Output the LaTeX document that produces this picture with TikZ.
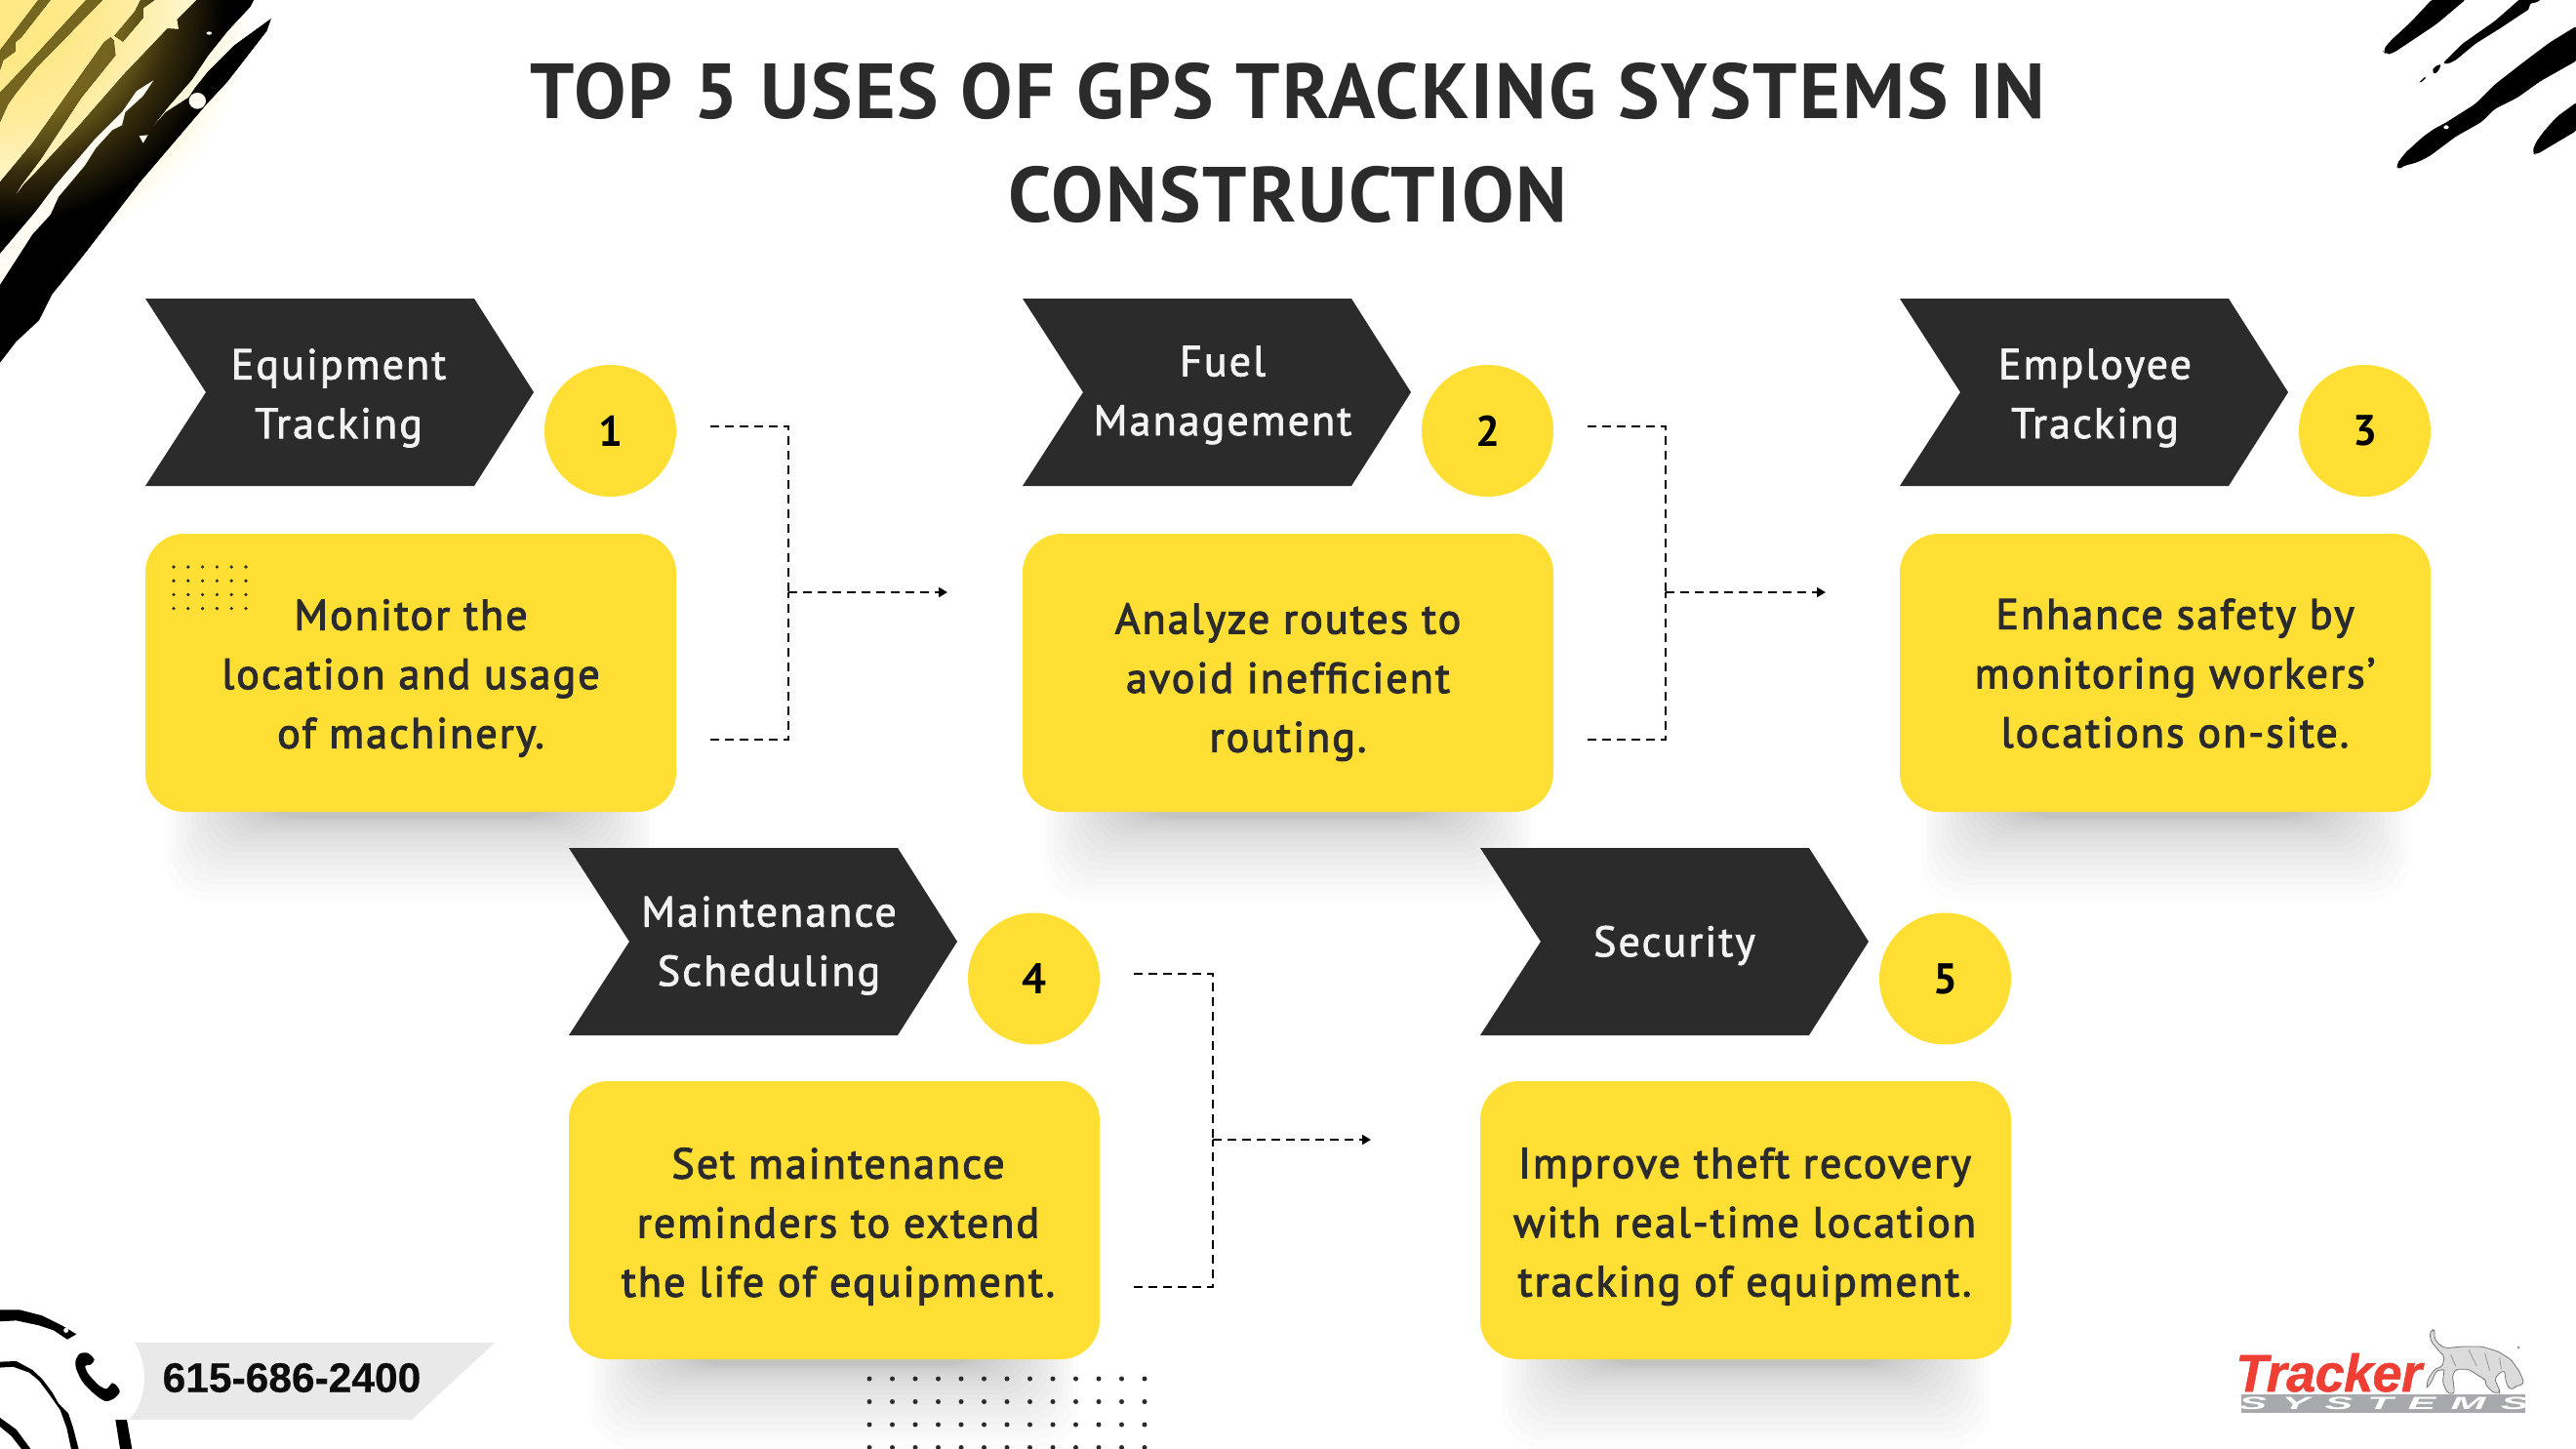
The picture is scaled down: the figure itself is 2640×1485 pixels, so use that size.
\documentclass[tikz,border=0pt]{standalone}
\usepackage{fontspec}
\usetikzlibrary{arrows.meta,calc}
\setmainfont{PT Sans}
\newfontfamily\titlefont{PT Sans}[LetterSpace=2.6]
\newfontfamily\bodyfont{PT Sans}[LetterSpace=4.8,FakeBold=2.6]
\newfontfamily\numfont{PT Sans}[LetterSpace=4]
\newfontfamily\labelfont{PT Sans}[LetterSpace=4.8,FakeBold=1.8]
\newfontfamily\liberfont{Liberation Sans}
\newfontfamily\phonefont{Liberation Sans}[FakeBold=0.5]
\newfontfamily\brandfont{Liberation Sans}[FakeBold=1,LetterSpace=-1]
\definecolor{ink}{HTML}{2B2B2B}
\definecolor{cardy}{HTML}{FFDF33}
\definecolor{barg}{HTML}{E9E9E9}
\definecolor{logor}{HTML}{EF3E33}
\definecolor{logog}{HTML}{A8A9AC}
\definecolor{sliver}{HTML}{FFFDF3}
\pgfdeclareradialshading{cornerglow}{\pgfpointorigin}{rgb(0bp)=(1,.91,.52);rgb(5bp)=(1,.91,.52);rgb(10bp)=(1,.92,.60);rgb(14.6bp)=(1,.953,.75);rgb(21.7bp)=(1,1,1);rgb(25bp)=(1,1,1);rgb(50bp)=(1,1,1)}
\pgfdeclareradialshading{cornerdark}{\pgfpointorigin}{rgb(0bp)=(.47,.41,.13);rgb(10.4bp)=(.45,.39,.12);rgb(12.7bp)=(.35,.30,.085);rgb(14.6bp)=(.22,.18,.05);rgb(19.2bp)=(0,0,0);rgb(25bp)=(0,0,0);rgb(50bp)=(0,0,0)}
\tikzset{
  cardbox/.style={fill=cardy,rounded corners=40pt,minimum width=544pt,minimum height=285pt,inner sep=0pt},
  cardtext/.style={inner sep=0pt,text=ink,align=center,font=\bodyfont\fontsize{44}{60.6}\selectfont},
  chevtext/.style={text=white!95!black,align=center,inner sep=0pt,font=\labelfont\fontsize{44}{60.6}\selectfont},
  numdisc/.style={circle,fill=cardy,minimum size=135pt,inner sep=0pt,text=black,font=\numfont\bfseries\fontsize{44}{50}\selectfont},
  flow/.style={draw=black,line width=2pt,dash pattern=on 9pt off 6pt},
  flowhead/.style={flow,-{Triangle[length=9pt,width=10pt,fill=black]}},
  titletext/.style={text=ink,inner sep=0pt,font=\titlefont\bfseries\fontsize{80}{106}\selectfont,align=center}
}
\newcommand{\chevshape}[2]{\fill[ink] (#1,#2)--++(337,0)--++(61,96)--++(-61,96)--++(-337,0)--++(62,-96)--cycle;}
\newcommand{\softshadow}[2]{\foreach \i in {0,...,19}{\fill[black,opacity=.012,rounded corners=40pt] ({#1+22+\i*5},{#2-120}) rectangle ({#1+522-\i*5},{#2+6+85*(1-\i/20)*(1-\i/20)});}}
\begin{document}
\begin{tikzpicture}[x=1pt,y=-1pt]
\useasboundingbox (0,0) rectangle (2640,1485);
\fill[white] (0,0) rectangle (2640,1485);
% soft shadows
\softshadow{149}{832}\softshadow{1048}{832}\softshadow{1947}{832}\softshadow{583}{1393}\softshadow{1517}{1393}
% corner brush, top left
\shade[shading=cornerglow] (0,0) circle (300pt);
\begin{scope}
\begin{scope}[x=0.33333pt,y=-0.33333pt]
\clip (605,0)--(545,60)--(550,90)--(515,88)--(380,230)--(240,390)--(110,530)--(75,565)--(40,612)--(65,570)--(125,490)--(250,300)--(355,170)--(350,125)--(340,115)--(320,130)--(100,440)--(0,560)--(0,1115)--(50,1050)--(120,985)--(160,905)--(260,780)--(430,560)--(635,320)--(700,250)--(820,95)--(833,58)--(720,140)--(640,220)--(600,270)--(580,300)--(510,345)--(456,405)--(520,325)--(590,245)--(640,170)--(700,95)--(770,20)--(780,0)--cycle
 (118,0)--(155,0)--(65,115)--(47,130)--(47,158)--(10,185)--(0,215)--(0,155)--cycle
 (265,0)--(315,0)--(110,210)--(50,285)--(25,320)--(0,375)--(0,285)--(100,180)--cycle
 (432,0)--(475,0)--(440,25)--(440,55)--(378,128)--(352,110)--(415,35)--cycle;
\fill[black] (0,0) rectangle (900,1200);
\shade[shading=cornerdark] (0,0) circle (300pt);
\end{scope}
\end{scope}
\begin{scope}[x=0.33333pt,y=-0.33333pt]
\fill[sliver] (472,247)--(420,280)--(375,345)--(290,430)--(170,570)--(110,650)--(0,780)--(0,875)--(100,720)--(155,660)--(180,605)--(260,510)--(295,455)--(345,400)--(375,385)--(385,345)--(440,295)--cycle;
\fill[sliver] (607,310) ellipse (26 and 25);
\fill[sliver] (643,102) ellipse (8 and 5);
\fill[sliver] (428,418)--(455,415)--(440,440)--cycle;
\end{scope}
% corner brush, top right
\begin{scope}[shift={(2380,0)},x=0.33333pt,y=-0.33333pt]
\fill[black,rounded corners=5pt] (185,155)--(210,125)--(270,70)--(340,-5)--(445,-5)--(350,75)--(260,135)--(215,165)--(195,167)--cycle;
\fill[black,rounded corners=3pt] (370,195)--(385,197)--(410,185)--(470,135)--(550,85)--(625,35)--(637,28)--(637,10)--(660,8)--(675,-5)--(610,-5)--(530,65)--(430,135)--cycle;
\fill[black,rounded corners=2pt] (337,218)--(345,205)--(365,197)--(358,218)--(345,228)--cycle;
\fill[black] (298,253)--(315,237)--(318,240)--(305,252)--cycle;
\fill[black,rounded corners=4pt] (785,78)--(700,130)--(620,190)--(530,260)--(470,320)--(375,380)--(345,395)--(310,420)--(255,470)--(228,505)--(232,523)--(250,510)--(290,500)--(330,480)--(410,420)--(490,375)--(530,335)--(600,300)--(670,250)--(785,185)--cycle;
\fill[white] (381,391) ellipse (8 and 6);
\fill[black,rounded corners=4pt] (785,312)--(720,360)--(680,405)--(655,440)--(645,470)--(657,476)--(785,400)--cycle;
\end{scope}
% phone strip
\fill[barg] (100,1376)--(507,1376)--(422,1455)--(100,1455)--cycle;
\fill[white] (80,1412) circle (68pt);
\begin{scope}[shift={(0,1330)},x=0.33333pt,y=-0.33333pt]
\fill[black] (-5,37)--(60,37)--(130,55)--(190,85)--(235,112)--(207,128)--(165,100)--(120,85)--(50,70)--(-5,73)--cycle;
\fill[white] (203,100) circle (2.5pt);
\fill[black] (-5,197)--(50,195)--(100,222)--(130,250)--(160,290)--(180,325)--(210,355)--(225,400)--(243,470)--(220,470)--(205,400)--(185,345)--(150,295)--(120,255)--(90,230)--(40,212)--(-5,215)--cycle;
\fill[black] (-5,365)--(50,405)--(98,470)--(70,470)--(35,425)--(-5,392)--cycle;
\fill[black] (355,375)--(390,375)--(407,470)--(370,470)--cycle;
\fill[black] plot[smooth cycle,tension=0.45] coordinates {(232,195) (245,172) (270,170) (290,190) (280,205) (262,210) (272,235) (305,270) (328,280) (345,262) (360,272) (368,290) (350,310) (325,318) (295,300) (255,260) (235,220)};
\end{scope}
\node[inner sep=0pt,text=black!95,font=\phonefont\bfseries\fontsize{42.5}{50}\selectfont] (phone) at (299,1412) {615-686-2400};
% title
\node[titletext] (title) at (1320,146) {TOP 5 USES OF GPS TRACKING SYSTEMS IN\\CONSTRUCTION};
% chevrons
\chevshape{149}{306}\chevshape{1048}{306}\chevshape{1947}{306}\chevshape{583}{869}\chevshape{1517}{869}
\node[chevtext] (lab1) at (347,408) {Equipment\\Tracking};
\node[chevtext] (lab2) at (1253,405) {Fuel\\Management};
\node[chevtext] (lab3) at (2147,408) {Employee\\Tracking};
\node[chevtext] (lab4) at (788,969) {Maintenance\\Scheduling};
\node[chevtext] (lab5) at (1716,969) {Security};
% numbers
\node[numdisc] (num1) at (625.5,441.5) {\raisebox{-1pt}{1}};
\node[numdisc] (num2) at (1524.5,441.5) {\raisebox{-1pt}{2}};
\node[numdisc] (num3) at (2423.5,441.5) {\raisebox{-1pt}{3}};
\node[numdisc] (num4) at (1059.5,1003) {\raisebox{-1pt}{4}};
\node[numdisc] (num5) at (1993.5,1003) {\raisebox{-1pt}{5}};
% cards
\node[cardbox] (card1) at (421,689.5) {};
\node[cardbox] (card2) at (1320,689.5) {};
\node[cardbox] (card3) at (2219,689.5) {};
\node[cardbox] (card4) at (855,1250.5) {};
\node[cardbox] (card5) at (1789,1250.5) {};
\node[cardtext] (text1) at (421,695) {Monitor the\\location and usage\\of machinery.};
\node[cardtext] (text2) at (1320,699) {Analyze routes to\\avoid inefficient\\routing.};
\node[cardtext] (text3) at (2229,690) {Enhance safety by\\monitoring workers’\\locations on-site.};
\node[cardtext] (text4) at (859,1257) {Set maintenance\\reminders to extend\\the life of equipment.};
\node[cardtext] (text5) at (1788,1257) {Improve theft recovery\\with real-time location\\tracking of equipment.};
% dot grids
\foreach \cx in {0,...,5}\foreach \cy in {0,...,3}{\fill[ink] ({178+\cx*14.8},{581+\cy*14.2}) circle (1.8pt);}
\foreach \cx in {0,...,12}\foreach \cy in {0,...,3}{\fill[ink] ({891+\cx*23.5},{1413+\cy*23.5}) circle (2.5pt);}
% connectors
\coordinate (a1) at (728,437);\coordinate (b1) at (728,758);\coordinate (j1) at (808,607);\coordinate (e1) at (971,607);
\coordinate (a2) at (1627,437);\coordinate (b2) at (1627,758);\coordinate (j2) at (1707,607);\coordinate (e2) at (1871,607);
\coordinate (a4) at (1162,998);\coordinate (b4) at (1162,1319);\coordinate (j4) at (1243,1168);\coordinate (e4) at (1405,1168);
\draw[flow] (a1)-|(j1);\draw[flow] (b1)-|(j1);
\draw[flowhead] (j1)--(e1);
\draw[flow] (a2)-|(j2);\draw[flow] (b2)-|(j2);
\draw[flowhead] (j2)--(e2);
\draw[flow] (a4)-|(j4);\draw[flow] (b4)-|(j4);
\draw[flowhead] (j4)--(e4);
% logo
\fill[logog] (2297,1429) rectangle (2588,1448);
\node[anchor=base west,inner sep=0pt,text=logor,font=\brandfont\bfseries\itshape\fontsize{54}{60}\selectfont] (trk) at (2291,1426) {Tracker};
\node[inner sep=0pt,text=white,xscale=2.4,font=\liberfont\bfseries\itshape\addfontfeature{LetterSpace=35}\fontsize{18}{20}\selectfont] (sys) at (2443,1438.5) {SYSTEMS};
\begin{scope}[shift={(2480,1350)},x=0.33333pt,y=-0.33333pt]
\filldraw[fill=black!14,draw=black!55,line width=.8pt,rounded corners=2pt] (38,38)--(30,50)--(35,75)--(60,105)--(75,120)--(70,150)--(45,160)--(25,190)--(20,218)--(35,200)--(50,165)--(75,160)--(70,200)--(85,233)--(105,235)--(105,215)--(100,180)--(110,160)--(150,160)--(205,195)--(200,205)--(225,232)--(245,232)--(245,225)--(230,190)--(245,170)--(260,165)--(265,200)--(275,220)--(290,220)--(295,210)--(310,210)--(320,200)--(305,165)--(280,130)--(240,105)--(190,90)--(130,90)--(80,95)--(60,85)--(45,65)--(45,40)--cycle;
\draw[black!45,line width=.7pt] (95,115)--(110,150) (150,100)--(175,150) (200,110)--(215,165) (245,125)--(250,160);
\fill[black!45] (303,93) circle (1.5pt);
\end{scope}
\end{tikzpicture}
\end{document}
